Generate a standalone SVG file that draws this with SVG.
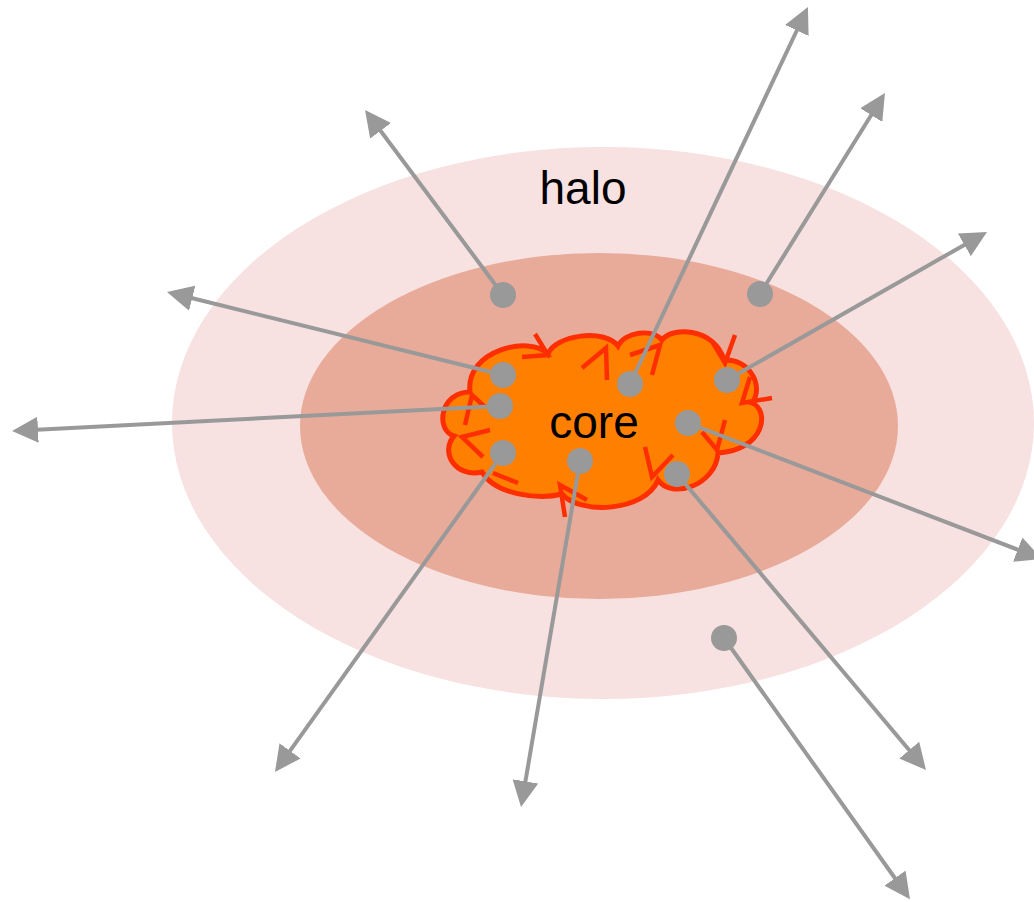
<svg xmlns="http://www.w3.org/2000/svg" width="1034" height="902" viewBox="0 0 1034 902">
  <style>
    .label { font-family: "Liberation Sans", Arial, sans-serif; font-size: 46px; fill: #000; text-anchor: middle; }
    .ray { stroke: #999999; stroke-width: 4; fill: none; marker-end: url(#head); }
    .dot { fill: #999999; }
    .swirl { stroke: #FF2E00; stroke-width: 4.5; fill: none; stroke-linecap: butt; stroke-linejoin: miter; }
  </style>
  <defs>
    <marker id="head" viewBox="0 0 26 26" refX="6" refY="13" markerWidth="26" markerHeight="26" markerUnits="userSpaceOnUse" orient="auto">
      <path d="M0,0 L26,13 L0,26 Z" fill="#999999"/>
    </marker>
  </defs>

  <rect width="1034" height="902" fill="#ffffff"/>

  <g id="halo">
    <ellipse cx="603" cy="423" rx="431" ry="276" fill="#F7E1E1"/>
    <text class="label" x="583" y="204">halo</text>
  </g>

  <g id="inner">
    <ellipse cx="599" cy="426" rx="299" ry="173" fill="#E8AB99"/>
  </g>

  <g id="core">
    <path d="M470,392 C465,350 530,335 548,354 C555,335 605,328 618,346 C625,332 652,328 662,340 C672,326 715,328 724,360 C748,358 765,385 752,403 C770,410 765,450 718,453 C716,485 672,500 658,480 C645,512 580,515 562,494 C540,500 495,495 482,472 C455,478 440,452 454,436 C435,430 440,392 470,392 Z" fill="#FF7F00" stroke="#FF2E00" stroke-width="5"/>
    <g class="swirl">
      <polyline points="535,334 548,355 522,357"/>
      <polyline points="582,368 606,348 607,380"/>
      <polyline points="630,355 660,345 652,375"/>
      <polyline points="735,335 725,363 713,343"/>
      <polyline points="750,377 742,403 772,398"/>
      <polyline points="725,420 717,450 702,432"/>
      <polyline points="645,447 652,477 673,455"/>
      <polyline points="565,517 560,485 587,500"/>
      <line x1="493" y1="473" x2="518" y2="483"/>
      <polyline points="490,430 462,437 483,457"/>
      <polyline points="465,425 472,395 485,407"/>
    </g>
    <text class="label" x="594" y="438">core</text>
  </g>

  <g id="connectors">
    <line class="ray" x1="503" y1="295" x2="377" y2="126"/>
    <line class="ray" x1="760" y1="294" x2="874.4" y2="110"/>
    <line class="ray" x1="630" y1="384" x2="799.4" y2="25"/>
    <line class="ray" x1="727" y1="380" x2="969.6" y2="241.9"/>
    <line class="ray" x1="503" y1="375" x2="186.4" y2="296.8"/>
    <line class="ray" x1="500" y1="406" x2="32" y2="430"/>
    <line class="ray" x1="688" y1="423" x2="1023.3" y2="551.8"/>
    <line class="ray" x1="677" y1="474" x2="913.1" y2="754.7"/>
    <line class="ray" x1="580" y1="461" x2="524.4" y2="787.3"/>
    <line class="ray" x1="503" y1="453" x2="286.6" y2="755.7"/>
    <line class="ray" x1="724" y1="638" x2="898.4" y2="883"/>
  </g>

  <g id="particles">
    <circle class="dot" cx="503" cy="295" r="13"/>
    <circle class="dot" cx="760" cy="294" r="13"/>
    <circle class="dot" cx="630" cy="384" r="13"/>
    <circle class="dot" cx="727" cy="380" r="13"/>
    <circle class="dot" cx="503" cy="375" r="13"/>
    <circle class="dot" cx="500" cy="406" r="13"/>
    <circle class="dot" cx="688" cy="423" r="13"/>
    <circle class="dot" cx="677" cy="474" r="13"/>
    <circle class="dot" cx="580" cy="461" r="13"/>
    <circle class="dot" cx="503" cy="453" r="13"/>
    <circle class="dot" cx="724" cy="638" r="13"/>
  </g>
</svg>
